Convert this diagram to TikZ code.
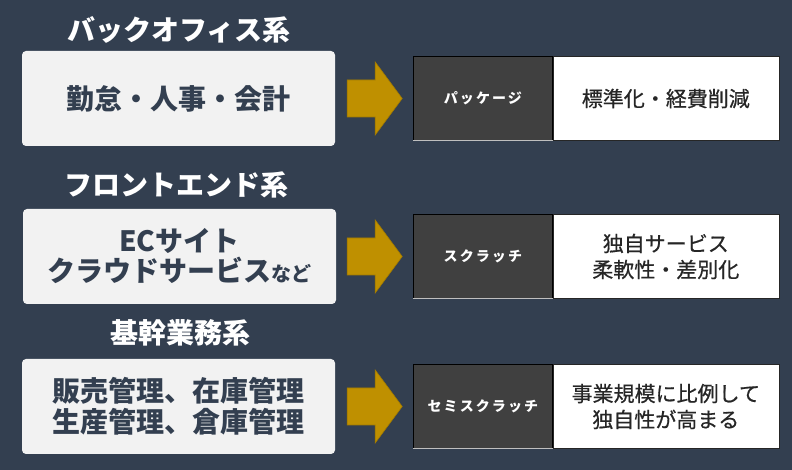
\documentclass[tikz,border=0pt]{standalone}
\usepackage{fontspec}
\setmainfont{Noto Sans CJK JP}
\newfontfamily\tagfont[LetterSpace=15]{Noto Sans CJK JP}
\newfontfamily\effectfont[FakeBold=0.6]{Noto Sans CJK JP}
\usetikzlibrary{positioning,calc}

\definecolor{bgnavy}{HTML}{333F50}
\definecolor{boxgray}{HTML}{F2F2F2}
\definecolor{arrowgold}{HTML}{BF9000}
\definecolor{tagdark}{HTML}{404040}

\begin{document}
\begin{tikzpicture}[
x=1pt,y=1pt,
field/.style={
fill=boxgray,
rounded corners=4pt,
minimum width=313pt,
minimum height=95pt,
align=center,
text=bgnavy,
font=\fontsize{28}{30}\selectfont\bfseries
},
title/.style={
text=white,
font=\fontsize{28}{30}\selectfont\bfseries
},
tag/.style={
draw=black,
fill=tagdark,
minimum width=139pt,
minimum height=84pt,
inner sep=0pt,
text=white,
font=\fontsize{14}{16}\selectfont\tagfont\bfseries
},
effect/.style={
draw=black!85,
fill=white,
minimum width=226pt,
minimum height=84pt,
align=center,
text=black!85,
font=\fontsize{21}{26}\selectfont\effectfont
},
goldarrow/.style={
fill=arrowgold,
draw=arrowgold!85!black,
line width=0.6pt
},
tagline/.style={
draw=black!25,
line width=1.2pt
}
]

% background
\fill[bgnavy] (0,0) rectangle (792,470);
\useasboundingbox (0,0) rectangle (792,470);


% Back office
\node[title] (backtitle) at (179,440) {バックオフィス系};
\node[field] (back) at (178.5,371.5) {勤怠・人事・会計};

\coordinate[right=12pt of back] (a1);
\fill[goldarrow] (a1) ++(0,18.5) -- ++(28,0) -- ++(0,18) -- ++(27,-36.5)
  -- ++(-27,-36.5) -- ++(0,18) -- ++(-28,0) -- cycle;
\coordinate[right=55pt of a1] (t1);

\node[tag,right=11pt of t1] (pkg) {パッケージ};
\node[effect,right=0pt of pkg] (std) {標準化・経費削減};
\draw[tagline] (pkg.south west) -- (pkg.south east);


% Front end
\node[title] (fronttitle) at (176,285) {フロントエンド系};
\node[field] (front) at (179.5,213.5)
{
ECサイト\\
クラウドサービス{\fontsize{20}{20}\selectfont など}
};

\coordinate[right=11pt of front] (a2);
\fill[goldarrow] (a2) ++(0,18.5) -- ++(28,0) -- ++(0,18) -- ++(27,-36.5)
  -- ++(-27,-36.5) -- ++(0,18) -- ++(-28,0) -- cycle;
\coordinate[right=55pt of a2] (t2);

\node[tag,right=11pt of t2] (scratch) {スクラッチ};
\node[effect,right=0pt of scratch] (orig)
{
独自サービス\\
柔軟性・差別化
};
\draw[tagline] (scratch.south west) -- (scratch.south east);


% Core business
\node[title] (coretitle) at (180,137) {基幹業務系};
\node[field,font=\fontsize{28}{31}\selectfont\bfseries] (core) at (178.5,63.5)
{
販売管理、在庫管理\\
生産管理、倉庫管理
};

\coordinate[right=12pt of core] (a3);
\fill[goldarrow] (a3) ++(0,18.5) -- ++(28,0) -- ++(0,18) -- ++(27,-36.5)
  -- ++(-27,-36.5) -- ++(0,18) -- ++(-28,0) -- cycle;
\coordinate[right=55pt of a3] (t3);

\node[tag,right=11pt of t3] (semi) {セミスクラッチ};
\node[effect,right=0pt of semi] (scale)
{
事業規模に比例して\\
独自性が高まる
};
\draw[tagline] (semi.south west) -- (semi.south east);


\end{tikzpicture}
\end{document}
